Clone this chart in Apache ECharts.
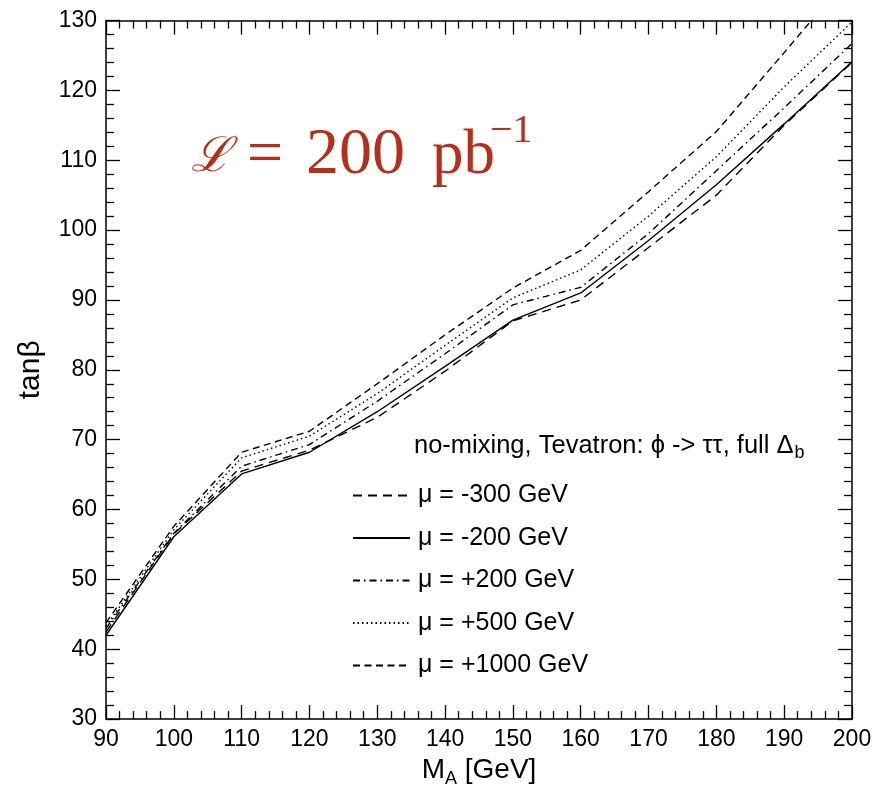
<!DOCTYPE html>
<html><head><meta charset="utf-8">
<script src="https://cdn.jsdelivr.net/npm/echarts@6/dist/echarts.min.js"></script>
<style>html,body{margin:0;padding:0;background:#fff}#c{width:886px;height:793px}</style>
</head><body><div id="c"></div>
<script>
const mA = [90, 100, 110, 120, 130, 140, 150, 160, 170, 180, 190, 200];
const muM300 = [42.5, 56.5, 65.5, 68.5, 73.2, 79.8, 87.0, 90.0, 97.5, 105.0, 115.0, 124.0];
const muM200 = [42.0, 56.1, 65.1, 68.2, 74.0, 80.5, 87.1, 91.0, 98.5, 106.5, 115.2, 124.1];
const muP200 = [43.0, 56.6, 66.2, 69.3, 75.5, 82.3, 89.3, 91.8, 99.5, 108.5, 117.5, 126.7];
const muP500 = [43.3, 57.1, 67.4, 70.5, 76.6, 83.5, 90.3, 94.3, 102.0, 110.5, 120.5, 129.8];
const muP1000 = [43.8, 57.6, 68.2, 71.2, 78.0, 85.0, 91.7, 97.1, 105.5, 114.1, 125.4, 136.9];
const seriesNames = ['\u03bc = -300 GeV', '\u03bc = -200 GeV', '\u03bc = +200 GeV', '\u03bc = +500 GeV', '\u03bc = +1000 GeV'];
const seriesData = [muM300, muM200, muP200, muP500, muP1000];
const dashes = [[9, 6], 'solid', [7, 4, 1.5, 4], [1.5, 3], [7, 4.5]];

const font = '"Liberation Sans", Arial, Helvetica, sans-serif';
const serif = '"Liberation Serif", "DejaVu Serif", serif';
const red = '#b5301a';
const chart = echarts.init(document.getElementById('c'), null, {renderer: 'canvas'});

function mkX(pos, show) {
  return {
    type: 'value', position: pos, min: 90, max: 200, interval: 10,
    axisLine: {show: true, onZero: false, lineStyle: {color: '#000', width: 1.5}},
    axisTick: {show: true, inside: true, length: 14, lineStyle: {color: '#000', width: 1.3}},
    minorTick: {show: true, splitNumber: 5, length: 8, lineStyle: {color: '#000', width: 1.3}},
    splitLine: {show: false},
    axisLabel: {show: show, color: '#000', fontSize: 23, fontFamily: font, margin: 9},
    name: show ? '{m|M}{s|A}{m| [GeV]}' : '',
    nameLocation: 'middle', nameGap: 29,
    nameTextStyle: {rich: {
      m: {fontSize: 28, fontFamily: font, color: '#000'},
      s: {fontSize: 18, fontFamily: font, color: '#000', verticalAlign: 'bottom', padding: [18, 0, 0, 0]}
    }}
  };
}
function mkY(pos, show) {
  return {
    type: 'value', position: pos, min: 30, max: 130, interval: 10,
    axisLine: {show: true, onZero: false, lineStyle: {color: '#000', width: 1.5}},
    axisTick: {show: true, inside: true, length: 14, lineStyle: {color: '#000', width: 1.3}},
    minorTick: {show: true, splitNumber: 5, length: 8, lineStyle: {color: '#000', width: 1.3}},
    splitLine: {show: false},
    axisLabel: {show: show, color: '#000', fontSize: 23, fontFamily: font, margin: 9},
    name: show ? 'tan\u03b2' : '',
    nameLocation: 'middle', nameGap: 60, nameRotate: 90,
    nameTextStyle: {fontSize: 30, fontFamily: font, color: '#000'}
  };
}

const series = seriesData.map((d, i) => ({
  name: seriesNames[i], type: 'line', xAxisIndex: 0, yAxisIndex: 0,
  data: mA.map((x, j) => [x, d[j]]),
  symbol: 'none', showSymbol: false, clip: true, animation: false,
  itemStyle: {color: '#000'},
  lineStyle: {color: '#000', width: 1.4, type: dashes[i]}
}));

chart.setOption({
  backgroundColor: '#fff',
  animation: false,
  grid: {left: 106, right: 34, top: 20.5, bottom: 73.5, containLabel: false},
  xAxis: [mkX('bottom', true), mkX('top', false)],
  yAxis: [mkY('left', true), mkY('right', false)],
  legend: {
    orient: 'vertical', left: 347, top: 478, itemGap: 17.5,
    itemWidth: 57, itemHeight: 25,
    itemStyle: {opacity: 0},
    textStyle: {fontSize: 25, fontFamily: font, color: '#000', padding: [0, 0, 0, 3]},
    data: seriesNames.map(n => ({name: n}))
  },
  series: series,
  graphic: [
    {
      type: 'text', left: 414, top: 433,
      style: {
        text: '{t|no-mixing, Tevatron: \u03d5 -> \u03c4\u03c4, full \u0394}{s|b}',
        rich: {
          t: {fontSize: 25.5, fontFamily: font, fill: '#000'},
          s: {fontSize: 18, fontFamily: font, fill: '#000', padding: [15, 0, 0, 1]}
        }
      }
    },
    {type: 'text', x: 191, y: 159, style: {text: '\u2112', font: 'italic 48px "DejaVu Serif", serif', fill: red, verticalAlign: 'middle'}},
    {type: 'text', x: 247, y: 156, style: {text: '=', font: '64px ' + serif, fill: red, verticalAlign: 'middle'}},
    {type: 'text', x: 306, y: 156, style: {text: '200', font: '66px ' + serif, fill: red, verticalAlign: 'middle'}},
    {type: 'text', x: 432, y: 156, style: {text: 'pb', font: '63px ' + serif, fill: red, verticalAlign: 'middle'}},
    {type: 'text', x: 490, y: 131, style: {text: '\u22121', font: '40px ' + serif, fill: red, verticalAlign: 'middle'}}
  ]
});
</script></body></html>
